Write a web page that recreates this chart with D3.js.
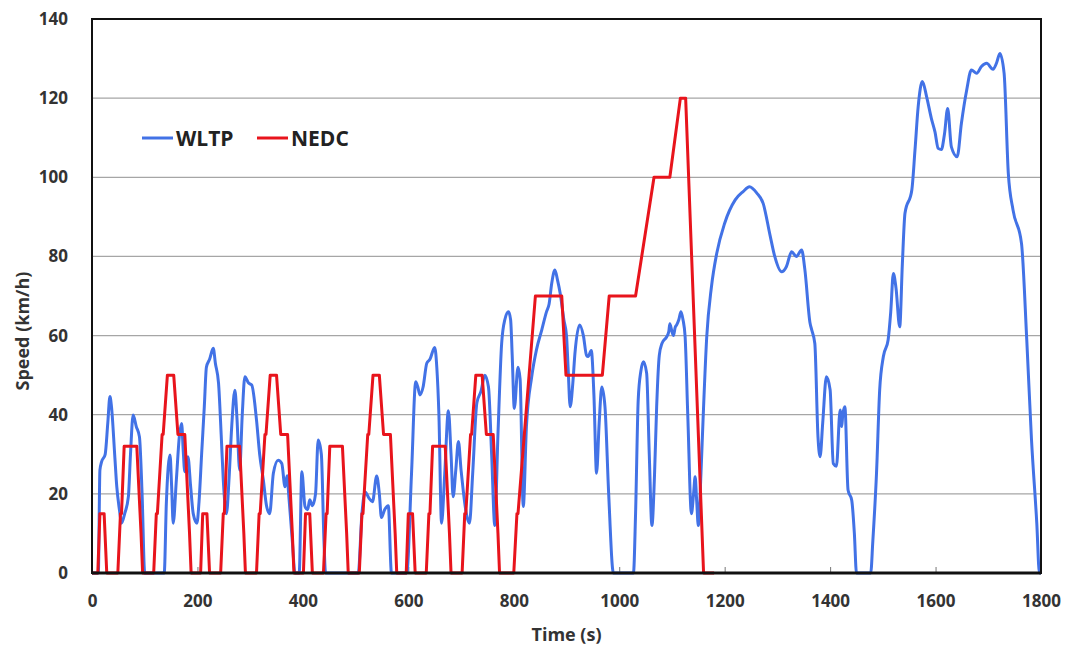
<!DOCTYPE html>
<html>
<head>
<meta charset="utf-8">
<script src="https://cdn.jsdelivr.net/npm/d3@7"></script>
<style>
  body { margin: 0; background: #fff; }
  text { font-family: "Open Sans", "Liberation Sans", sans-serif; font-weight: bold; }
</style>
</head>
<body>
<svg class="chart"></svg>
<script>
// WLTP (class 3) speed trace
var wltpTime = [0, 12, 15, 18, 25, 30, 34, 37, 43, 47, 52, 56, 62, 69, 73, 78, 84, 90, 95, 100,
  137, 141, 148, 151, 154, 160, 166, 170, 173, 176, 182, 187, 192, 199, 203, 208, 213, 217, 223, 230,
  234, 240, 245, 249, 255, 260, 265, 271, 275, 280, 285, 290, 297, 303, 312, 318, 325, 331, 337, 344,
  353, 360, 366, 370, 373, 380, 385, 393, 398, 404, 409, 413, 418, 424, 429, 435, 440, 443, 505, 512,
  518, 525, 532, 540, 545, 549, 555, 562, 568, 597, 606, 614, 618, 622, 628, 635, 641, 650, 654, 658,
  663, 669, 676, 681, 685, 690, 695, 700, 704, 710, 716, 722, 730, 738, 745, 752, 758, 764, 770, 777,
  783, 790, 794, 797, 801, 808, 812, 818, 824, 834, 843, 853, 862, 867, 872, 878, 883, 888, 895, 900,
  903, 907, 912, 916, 925, 932, 938, 941, 947, 952, 957, 962, 967, 973, 980, 989, 1027, 1031, 1036, 1041,
  1046, 1052, 1057, 1062, 1067, 1071, 1076, 1081, 1090, 1094, 1096, 1100, 1103, 1106, 1109, 1113, 1117, 1121, 1125, 1130,
  1137, 1141, 1144, 1147, 1150, 1155, 1159, 1166, 1175, 1185, 1200, 1220, 1235, 1247, 1261, 1273, 1286, 1295, 1308, 1317,
  1327, 1336, 1346, 1352, 1362, 1365, 1371, 1377, 1381, 1386, 1393, 1400, 1406, 1412, 1419, 1422, 1424, 1428, 1434, 1441,
  1446, 1450, 1477, 1481, 1488, 1494, 1501, 1510, 1515, 1520, 1525, 1532, 1537, 1542, 1555, 1561, 1567, 1575, 1583, 1592,
  1599, 1605, 1611, 1617, 1623, 1630, 1641, 1649, 1659, 1668, 1678, 1687, 1697, 1709, 1716, 1722, 1730, 1738, 1747, 1763,
  1773, 1782, 1792, 1797, 1800];
var wltpSpeed = [0, 0, 26, 28, 30, 38, 44.6, 42, 30, 21.8, 16, 12.6, 15, 19.3, 30, 39.9, 37, 34.4, 20, 0,
  0, 17.6, 29.8, 22, 12.6, 23.5, 35, 37.8, 31, 25.6, 29.4, 22, 15, 12.6, 18, 30.2, 42, 52, 54, 56.8,
  53, 48, 35, 23.5, 15, 24, 37, 46.2, 39, 26, 40, 49.6, 48, 47.5, 38.7, 30, 23.5, 17, 15, 25.2,
  28.5, 27.7, 21.8, 24.6, 20, 8, 0, 0, 25.6, 16.8, 16, 18.5, 17, 20, 33.6, 30, 8, 0, 0, 15,
  20.5, 19, 18, 24.5, 20, 14, 16, 17, 0, 0, 25, 48.3, 47, 45, 47, 53, 54, 57, 52, 40,
  12.6, 25, 41, 30, 19.3, 26, 33.2, 26, 21, 15, 12.6, 25, 43, 46, 50, 47, 30, 12, 35, 58,
  64, 66, 64, 55, 41.6, 52, 49, 16.8, 37, 49.6, 56.4, 61.4, 66, 68, 73.2, 76.6, 74, 70.7, 64, 60,
  52, 42, 48, 55.5, 62.7, 60, 55, 54.7, 56.2, 45, 25.2, 38, 47, 42, 20, 0, 0, 15, 43.7, 51,
  53.4, 50.5, 30, 12, 25, 42, 55, 58, 59.7, 61, 63, 61, 60, 62, 62.7, 64, 66, 64, 59.7, 40,
  15, 20, 24.3, 18, 12, 25, 38.7, 59.7, 72.4, 80.8, 88.4, 94.3, 96.4, 97.6, 96, 93.4, 85.4, 80, 76.1, 77.4,
  81.2, 80, 81.6, 76.8, 63.1, 61.5, 58, 34.4, 29.4, 38, 49.6, 46.3, 27.7, 27, 41.2, 37, 40, 42, 21, 18.4,
  10, 0, 0, 8, 25.2, 46.2, 54.7, 58.9, 66, 75.7, 72, 62.2, 78, 90.9, 96.8, 106.9, 117.8, 124.2, 120.4, 114.9,
  111.4, 107.3, 107, 111, 117.4, 107.7, 105.2, 113.6, 122, 127.1, 126.3, 128, 128.8, 127.3, 129, 131.3, 126.3, 101, 91.7, 83.3,
  58.9, 33.6, 12.6, 0, 0];

// NEDC: four ECE-15 urban cycles followed by the EUDC
var nedcTime = [0, 11, 15, 23, 28, 49, 54, 56, 61, 85, 93, 96, 117, 122, 124, 133, 135, 143, 155, 163, 176, 185, 188,
  195, 206, 210, 218, 223, 244, 249, 251, 256, 280, 288, 291, 312, 317, 319, 328, 330, 338, 350, 358, 371, 380, 383,
  390, 401, 405, 413, 418, 439, 444, 446, 451, 475, 483, 486, 507, 512, 514, 523, 525, 533, 545, 553, 566, 575, 578,
  585, 596, 600, 608, 613, 634, 639, 641, 646, 670, 678, 681, 702, 707, 709, 718, 720, 728, 740, 748, 761, 770, 773,
  780, 800, 806, 808, 841, 891, 899, 968, 981, 1031, 1066, 1096, 1116, 1126, 1160, 1180];
var nedcSpeed = [0, 0, 15, 15, 0, 0, 15, 15, 32, 32, 10, 0, 0, 15, 15, 35, 35, 50, 50, 35, 35, 10, 0,
  0, 0, 15, 15, 0, 0, 15, 15, 32, 32, 10, 0, 0, 15, 15, 35, 35, 50, 50, 35, 35, 10, 0,
  0, 0, 15, 15, 0, 0, 15, 15, 32, 32, 10, 0, 0, 15, 15, 35, 35, 50, 50, 35, 35, 10, 0,
  0, 0, 15, 15, 0, 0, 15, 15, 32, 32, 10, 0, 0, 15, 15, 35, 35, 50, 50, 35, 35, 10, 0,
  0, 0, 15, 15, 70, 70, 50, 50, 70, 70, 100, 100, 120, 120, 0, 0];

var xTicks = [0, 200, 400, 600, 800, 1000, 1200, 1400, 1600, 1800];
var yTicks = [0, 20, 40, 60, 80, 100, 120, 140];

var margin = {top: 19, right: 26, bottom: 73, left: 92},
    width = 1067 - margin.left - margin.right,
    height = 646 - margin.top - margin.bottom;

var x = d3.scaleLinear().domain([0, 1800]).range([0, width]);
var y = d3.scaleLinear().domain([0, 140]).range([height, 0]);

var svg = d3.select(".chart")
    .attr("width", 1067)
    .attr("height", 646);
var chart = svg.append("g")
    .attr("transform", "translate(" + margin.left + "," + margin.top + ")");

// grid
chart.append("g").selectAll("line")
    .data(yTicks.filter(function(d) { return d > 0 && d < 140; }))
  .enter().append("line")
    .attr("x1", 0).attr("x2", width)
    .attr("y1", function(d) { return y(d); })
    .attr("y2", function(d) { return y(d); })
    .attr("stroke", "#a6a6a6")
    .attr("stroke-width", 1.2);

// axes
var yAxis = d3.axisLeft(y).tickValues(yTicks).tickSize(0).tickPadding(24);
var xAxis = d3.axisBottom(x).tickValues(xTicks).tickFormat(d3.format("d"))
    .tickSizeInner(-6).tickSizeOuter(0).tickPadding(22);

var gy = chart.append("g").call(yAxis);
gy.select(".domain").remove();
gy.selectAll("text").attr("font-size", 17).attr("fill", "#333");

var gx = chart.append("g")
    .attr("transform", "translate(0," + height + ")")
    .call(xAxis);
gx.select(".domain").remove();
gx.selectAll("line").attr("stroke", "#777");
gx.selectAll("text").attr("font-size", 17).attr("fill", "#333");

// series
var wltp = wltpTime.map(function(t, i) { return [t, wltpSpeed[i]]; });
var nedc = nedcTime.map(function(t, i) { return [t, nedcSpeed[i]]; });

var line = d3.line()
    .x(function(d) { return x(d[0]); })
    .y(function(d) { return y(d[1]); });

chart.append("path")
    .datum(wltp)
    .attr("fill", "none")
    .attr("stroke", "#4272e6")
    .attr("stroke-width", 3)
    .attr("stroke-linejoin", "round")
    .attr("d", line.curve(d3.curveMonotoneX));

chart.append("path")
    .datum(nedc)
    .attr("fill", "none")
    .attr("stroke", "#e8141c")
    .attr("stroke-width", 3)
    .attr("stroke-linejoin", "round")
    .attr("d", line.curve(d3.curveLinear));

// frame
chart.append("rect")
    .attr("width", width).attr("height", height)
    .attr("fill", "none")
    .attr("stroke", "#111")
    .attr("stroke-width", 2);
chart.append("line")
    .attr("x1", 0).attr("x2", width)
    .attr("y1", height).attr("y2", height)
    .attr("stroke", "#111")
    .attr("stroke-width", 3);

// legend
var legend = [["WLTP", "#4272e6", 142], ["NEDC", "#e8141c", 257]];
var lg = svg.selectAll(".legend")
    .data(legend)
  .enter().append("g")
    .attr("class", "legend")
    .attr("transform", function(d) { return "translate(" + d[2] + ",138)"; });
lg.append("line")
    .attr("x1", 0).attr("x2", 31)
    .attr("stroke", function(d) { return d[1]; })
    .attr("stroke-width", 3);
lg.append("text")
    .attr("x", 34).attr("dy", "0.36em")
    .attr("font-size", 21)
    .attr("fill", "#222")
    .text(function(d) { return d[0]; });

// axis titles
svg.append("text")
    .attr("x", margin.left + width / 2)
    .attr("y", 641)
    .attr("text-anchor", "middle")
    .attr("font-size", 18)
    .attr("fill", "#333")
    .text("Time (s)");
svg.append("text")
    .attr("transform", "translate(29,331) rotate(-90)")
    .attr("text-anchor", "middle")
    .attr("font-size", 18)
    .attr("fill", "#333")
    .text("Speed (km/h)");
</script>
</body>
</html>
